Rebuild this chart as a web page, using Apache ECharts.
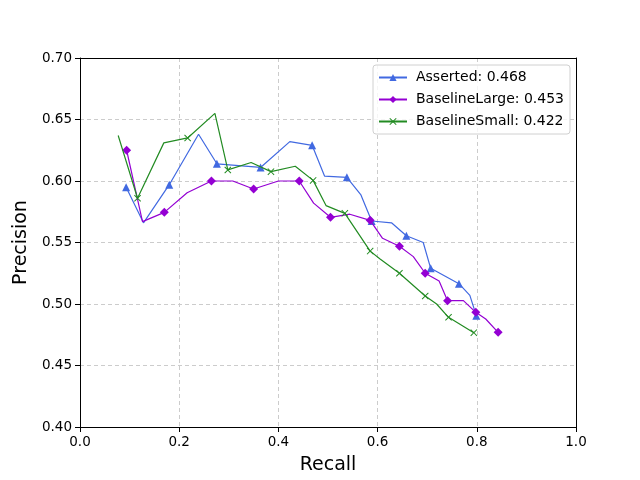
<!DOCTYPE html>
<html>
<head>
<meta charset="utf-8">
<script src="https://cdn.jsdelivr.net/npm/echarts@6/dist/echarts.min.js"></script>
<style>html,body{margin:0;padding:0;background:#fff;}#c{width:640px;height:480px;}</style>
</head>
<body>
<div id="c"></div>
<script>
const xTicks = [0.0, 0.2, 0.4, 0.6, 0.8, 1.0];
const yTicks = [0.40, 0.45, 0.50, 0.55, 0.60, 0.65, 0.70];

const seriesNames = ['Asserted: 0.468', 'BaselineLarge: 0.453', 'BaselineSmall: 0.422'];

const assertedRecall    = [0.093, 0.128, 0.180, 0.239, 0.276, 0.364, 0.423, 0.468, 0.493, 0.538, 0.566, 0.588, 0.628, 0.658, 0.692, 0.707, 0.764, 0.786, 0.799];
const assertedPrecision = [0.595, 0.566, 0.597, 0.638, 0.614, 0.611, 0.632, 0.629, 0.604, 0.603, 0.589, 0.5675, 0.566, 0.5555, 0.550, 0.529, 0.5165, 0.507, 0.4905];
const assertedMarked    = [1, 0, 1, 0, 1, 1, 0, 1, 0, 1, 0, 1, 0, 1, 0, 1, 1, 0, 1];

const largeRecall    = [0.094, 0.126, 0.170, 0.216, 0.265, 0.308, 0.350, 0.400, 0.442, 0.471, 0.505, 0.544, 0.585, 0.610, 0.644, 0.672, 0.696, 0.724, 0.741, 0.773, 0.798, 0.818, 0.843];
const largePrecision = [0.625, 0.567, 0.5745, 0.5905, 0.600, 0.600, 0.5935, 0.600, 0.600, 0.582, 0.5705, 0.573, 0.568, 0.5534, 0.547, 0.5385, 0.525, 0.5187, 0.5027, 0.5027, 0.4932, 0.4878, 0.477];
const largeMarked    = [1, 0, 1, 0, 1, 0, 1, 0, 1, 0, 1, 0, 1, 0, 1, 0, 1, 0, 1, 0, 1, 0, 1];

const smallRecall    = [0.077, 0.116, 0.169, 0.217, 0.272, 0.298, 0.345, 0.385, 0.434, 0.470, 0.496, 0.534, 0.585, 0.605, 0.644, 0.696, 0.719, 0.743, 0.794];
const smallPrecision = [0.637, 0.586, 0.631, 0.635, 0.655, 0.609, 0.615, 0.6076, 0.612, 0.6005, 0.580, 0.5737, 0.543, 0.5366, 0.525, 0.5065, 0.500, 0.4892, 0.4767];
const smallMarked    = [0, 1, 0, 1, 0, 1, 0, 1, 0, 1, 0, 1, 1, 0, 1, 1, 0, 1, 1];

const colors = ['#4169E1', '#9400D3', '#228B22'];
const crossPath = 'path://M0,1L1,0L5,4L9,0L10,1L6,5L10,9L9,10L5,6L1,10L0,9L4,5Z';
const symbols = ['triangle', 'diamond', crossPath];
const symbolSizes = [[8, 8], [9, 9], [7, 7]];

function build(rs, ps, marks) {
  return rs.map((r, i) => marks[i] ? [r, ps[i]] : { value: [r, ps[i]], symbol: 'none' });
}
const allData = [
  build(assertedRecall, assertedPrecision, assertedMarked),
  build(largeRecall, largePrecision, largeMarked),
  build(smallRecall, smallPrecision, smallMarked)
];

const chart = echarts.init(document.getElementById('c'), null, { renderer: 'canvas' });
const font = 'DejaVu Sans';
const frameAxis = {
  type: 'value',
  axisLine: { show: true, onZero: false, lineStyle: { color: '#000', width: 1 } },
  axisTick: { show: false }, axisLabel: { show: false }, splitLine: { show: false }
};
chart.setOption({
  animation: false,
  backgroundColor: '#fff',
  grid: { left: 80, right: 64, top: 58, bottom: 53 },
  legend: {
    orient: 'vertical',
    left: 373, top: 65,
    padding: [4, 6, 4, 5],
    itemGap: 5,
    itemWidth: 28, itemHeight: 9,
    backgroundColor: 'rgba(255,255,255,0.8)',
    borderColor: '#d0d0d0', borderWidth: 1, borderRadius: 3,
    textStyle: { fontFamily: font, fontSize: 14, color: '#000', padding: [0, 0, 0, 4], lineHeight: 17 },
    data: seriesNames
  },
  xAxis: [{
    type: 'value', min: 0, max: 1, interval: 0.2,
    name: 'Recall', nameLocation: 'middle', nameGap: 29,
    nameTextStyle: { fontFamily: font, fontSize: 19, color: '#000' },
    axisLine: { show: true, onZero: false, lineStyle: { color: '#000', width: 1 } },
    axisTick: { show: true, length: 5, lineStyle: { color: '#000' } },
    axisLabel: { fontFamily: font, fontSize: 13.5, color: '#000', margin: 8, formatter: v => xTicks.includes(+v.toFixed(1)) ? v.toFixed(1) : '' },
    splitLine: { show: true, lineStyle: { color: '#cccccc', type: [4, 3], width: 1 } }
  }, Object.assign({ position: 'top', min: 0, max: 1 }, frameAxis)],
  yAxis: [{
    type: 'value', min: 0.40, max: 0.70, interval: 0.05,
    name: 'Precision', nameLocation: 'middle', nameGap: 46,
    nameTextStyle: { fontFamily: font, fontSize: 19, color: '#000' },
    axisLine: { show: true, onZero: false, lineStyle: { color: '#000', width: 1 } },
    axisTick: { show: true, length: 5, lineStyle: { color: '#000' } },
    axisLabel: { fontFamily: font, fontSize: 13.5, color: '#000', margin: 8, formatter: v => yTicks.includes(+v.toFixed(2)) ? v.toFixed(2) : '' },
    splitLine: { show: true, lineStyle: { color: '#cccccc', type: [4, 3], width: 1 } }
  }, Object.assign({ position: 'right', min: 0.40, max: 0.70 }, frameAxis)],
  series: seriesNames.map((name, k) => ({
    name: name,
    type: 'line',
    data: allData[k],
    symbol: symbols[k],
    symbolSize: symbolSizes[k],
    showAllSymbol: true,
    color: colors[k],
    lineStyle: { color: colors[k], width: 1.2 },
    itemStyle: { color: colors[k], borderWidth: 0 },
    emphasis: { disabled: true },
    z: 2 + k
  }))
});
</script>
</body>
</html>
